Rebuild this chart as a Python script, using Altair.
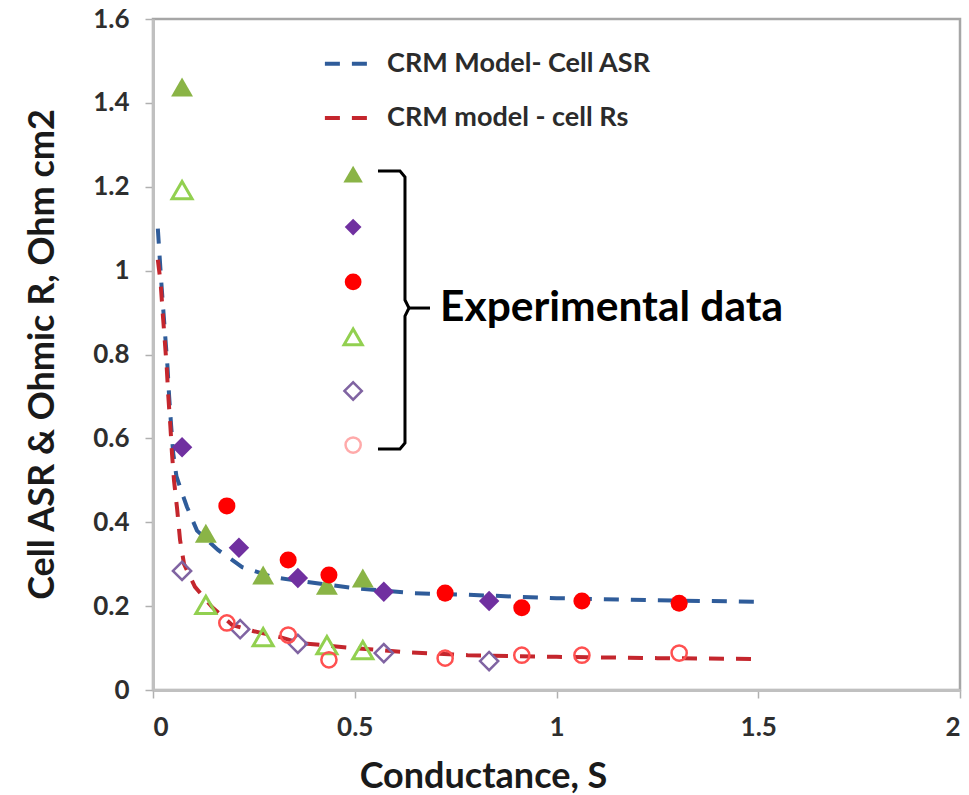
import altair as alt
import pandas as pd

# ---- Experimental data (conductance S, resistance ohm cm2) ----
asr_tri_x = [0.072, 0.131, 0.273, 0.431, 0.520]
asr_tri_y = [1.438, 0.374, 0.274, 0.250, 0.267]

asr_dia_x = [0.072, 0.213, 0.359, 0.572, 0.833]
asr_dia_y = [0.579, 0.339, 0.267, 0.234, 0.212]

asr_cir_x = [0.183, 0.335, 0.436, 0.724, 0.914, 1.063, 1.304]
asr_cir_y = [0.439, 0.310, 0.274, 0.231, 0.196, 0.212, 0.207]

rs_tri_x = [0.072, 0.131, 0.273, 0.431, 0.520]
rs_tri_y = [1.192, 0.203, 0.126, 0.107, 0.095]

rs_dia_x = [0.072, 0.216, 0.359, 0.572, 0.833]
rs_dia_y = [0.284, 0.145, 0.110, 0.088, 0.069]

rs_cir_x = [0.183, 0.335, 0.436, 0.724, 0.914, 1.063, 1.304]
rs_cir_y = [0.160, 0.131, 0.072, 0.076, 0.083, 0.083, 0.088]

# ---- CRM model curves ----
asr_model_x = [0.012, 0.020, 0.026, 0.031, 0.036, 0.040, 0.045, 0.050, 0.058,
               0.070, 0.084, 0.109, 0.161, 0.221, 0.295, 0.347, 0.496, 0.645,
               0.780, 1.000, 1.250, 1.510]
asr_model_y = [1.100, 0.980, 0.900, 0.835, 0.770, 0.700, 0.630, 0.565, 0.510,
               0.475, 0.437, 0.380, 0.334, 0.293, 0.270, 0.262, 0.243, 0.231,
               0.227, 0.219, 0.214, 0.210]

rs_model_x = [0.012, 0.019, 0.024, 0.029, 0.034, 0.038, 0.043, 0.047, 0.052,
              0.060, 0.067, 0.077, 0.104, 0.146, 0.196, 0.250, 0.315, 0.365,
              0.496, 0.630, 0.780, 1.000, 1.250, 1.510]
rs_model_y = [1.026, 0.970, 0.900, 0.835, 0.770, 0.700, 0.630, 0.565, 0.500,
              0.430, 0.358, 0.300, 0.246, 0.198, 0.155, 0.140, 0.126, 0.112,
              0.100, 0.090, 0.083, 0.079, 0.076, 0.074]

# ---- Annotation layout (data units) ----
model_labels = ["CRM Model- Cell ASR", "CRM model - cell Rs"]
model_label_y = [1.493, 1.364]
key_line_x = [0.426, 0.538]
label_x = 0.580

key_x = 0.496
key_y = [1.230, 1.104, 0.973, 0.842, 0.713, 0.584]

brace_x = [0.5576, 0.6121, 0.6245, 0.6245, 0.6344, 0.6245, 0.6245, 0.6121, 0.5576]
brace_y = [1.2375, 1.2375, 1.2232, 0.9299, 0.9108, 0.8918, 0.5889, 0.5746, 0.5746]
stub_x = [0.6344, 0.6865]
stub_y = [0.9108, 0.9108]
note_text = "Experimental data"
note_x = 0.7113
note_y = 0.911

BLUE = "#2f5c9a"
RED = "#c4262d"
FONT = "Lato"

x_scale = alt.Scale(domain=[0, 2], nice=False)
y_scale = alt.Scale(domain=[0, 1.6], nice=False)

x_axis = alt.Axis(
    title="Conductance, S", values=[0, 0.5, 1, 1.5, 2], format=".1~f",
    titleX=330, titleY=97, titleBaseline="alphabetic", titleAlign="center",
)
y_axis = alt.Axis(
    title="Cell ASR & Ohmic R, Ohm cm2",
    values=[0, 0.2, 0.4, 0.6, 0.8, 1.0, 1.2, 1.4, 1.6], format=".1~f",
    titleX=-100, titleY=335, titleBaseline="alphabetic", titleAlign="center",
)

X = alt.X("x:Q", scale=x_scale, axis=x_axis)
Y = alt.Y("y:Q", scale=y_scale, axis=y_axis)


def frame(xs, ys):
    return pd.DataFrame({"x": xs, "y": ys, "i": list(range(len(xs)))})


def curve(xs, ys, color):
    return alt.Chart(frame(xs, ys)).mark_line(
        color=color, strokeWidth=4, strokeDash=[15, 12]
    ).encode(x=X, y=Y, order="i:Q")


def points(xs, ys, shape, size, color, filled, width=2.5):
    if filled:
        style = dict(shape=shape, size=size, filled=True, color=color, opacity=1)
    else:
        style = dict(shape=shape, size=size, filled=False, stroke=color,
                     strokeWidth=width, opacity=1)
    return alt.Chart(frame(xs, ys)).mark_point(**style).encode(x=X, y=Y)


layers = [
    curve(asr_model_x, asr_model_y, BLUE),
    curve(rs_model_x, rs_model_y, RED),
    points(asr_tri_x, asr_tri_y, "triangle-up", 480, "#8ab446", True),
    points(asr_dia_x, asr_dia_y, "diamond", 420, "#7030a0", True),
    points(asr_cir_x, asr_cir_y, "circle", 290, "#ff0000", True),
    points(rs_tri_x, rs_tri_y, "triangle-up", 400, "#92d050", False, 3),
    points(rs_dia_x, rs_dia_y, "diamond", 330, "#8064a2", False, 2.5),
    points(rs_cir_x, rs_cir_y, "circle", 230, "#ff5050", False, 2.5),
]

# model key lines and labels
for yv, color in zip(model_label_y, [BLUE, RED]):
    layers.append(curve(key_line_x, [yv, yv], color))
layers.append(
    alt.Chart(pd.DataFrame({"x": [label_x] * 2, "y": model_label_y, "t": model_labels}))
    .mark_text(align="left", baseline="middle", font=FONT, fontWeight="bold",
               fontSize=27, color="#2b2b2b")
    .encode(x=X, y=Y, text="t:N")
)

# experimental data key column
key_styles = [
    ("triangle-up", 380, "#8ab446", True, 0),
    ("diamond", 280, "#7030a0", True, 0),
    ("circle", 280, "#ff0000", True, 0),
    ("triangle-up", 330, "#92d050", False, 3),
    ("diamond", 300, "#8064a2", False, 2.5),
    ("circle", 230, "#ffaaaa", False, 2.5),
]
for yv, (shape, size, color, filled, w) in zip(key_y, key_styles):
    layers.append(points([key_x], [yv], shape, size, color, filled, w))

# brace and note
layers.append(
    alt.Chart(frame(brace_x, brace_y)).mark_line(color="black", strokeWidth=3)
    .encode(x=X, y=Y, order="i:Q")
)
layers.append(
    alt.Chart(frame(stub_x, stub_y)).mark_line(color="black", strokeWidth=3)
    .encode(x=X, y=Y, order="i:Q")
)
layers.append(
    alt.Chart(pd.DataFrame({"x": [note_x], "y": [note_y], "t": [note_text]}))
    .mark_text(align="left", baseline="middle", font=FONT, fontWeight="bold",
               fontSize=42.5, color="black")
    .encode(x=X, y=Y, text="t:N")
)

chart = (
    alt.layer(*layers)
    .properties(
        width=807, height=671,
        padding={"left": 153, "top": 19, "right": 9, "bottom": 105},
        autosize=alt.AutoSizeParams(type="none"),
        background="white",
    )
    .configure_view(stroke="#a6a6a6", strokeWidth=2.5)
    .configure_axis(
        grid=False,
        domainColor="#c0c0c0", domainWidth=3,
        tickColor="#b0b0b0", tickWidth=1.5, tickSize=8,
        labelFont=FONT, labelFontWeight="bold", labelFontSize=26,
        labelColor="#2e2e2e", labelPadding=16,
        titleFont=FONT, titleFontWeight="bold", titleFontSize=36,
        titleColor="#1a1a1a",
    )
)

chart.save("out.html", embed_options={"renderer": "svg", "actions": False})
